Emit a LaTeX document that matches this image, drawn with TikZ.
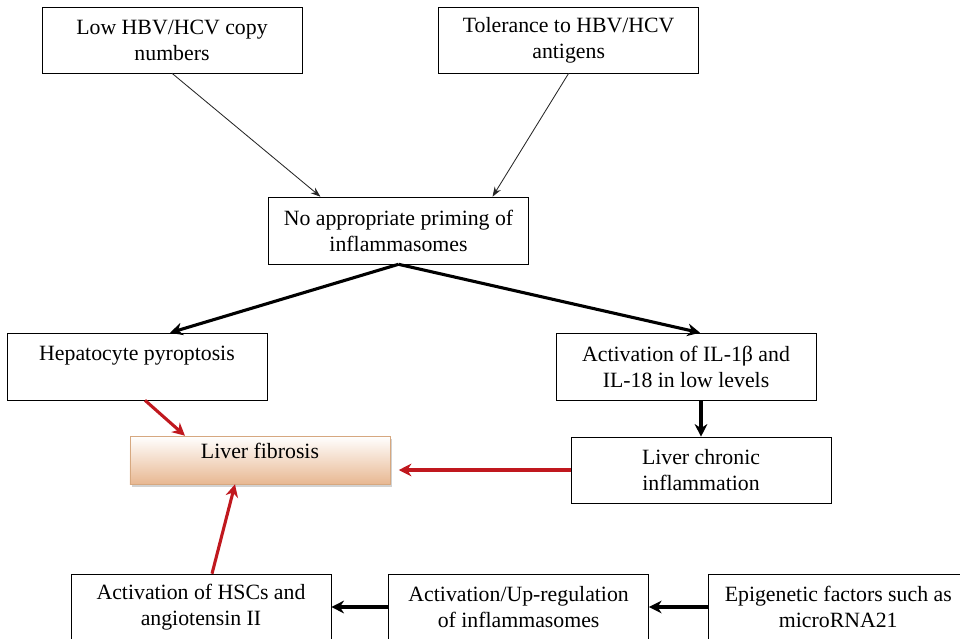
\documentclass[tikz,border=0pt]{standalone}
\usepackage{fontspec}
\setmainfont{Liberation Serif}
\usepackage{tikz}
\usetikzlibrary{positioning,arrows.meta,shadows}
\definecolor{fibred}{RGB}{192,24,30}
\definecolor{peach}{RGB}{232,184,146}
\definecolor{peachline}{RGB}{214,168,128}
\tikzstyle{flowbox} = [draw=black, thin, fill=white, rectangle,
    minimum width=6.5cm, minimum height=1.65cm, align=center,
    font=\fontsize{15.5}{18.5}\selectfont]
\tikzstyle{fibbox} = [flowbox, draw=peachline, top color=white, bottom color=peach,
    minimum height=1.2cm, drop shadow={shadow xshift=1.2pt, shadow yshift=-1.8pt, fill=black!35}]
\tikzstyle{thinarrow} = [draw=black!85, line width=0.6pt, -{Stealth[length=7pt,width=5pt]}]
\tikzstyle{boldarrow} = [draw=black, line width=2.2pt, -{Stealth[length=9pt,width=9pt]}]
\tikzstyle{redarrow} = [draw=fibred, line width=2.2pt, -{Stealth[length=9pt,width=9pt]}]

\begin{document}
\begin{tikzpicture}[x=0.025cm,y=-0.025cm]
\useasboundingbox (0,0) rectangle (960,638);
\clip (0,0) rectangle (960,638);

% top row
\node [flowbox] (low) at (172,40) {Low HBV/HCV copy\\numbers};
\node [flowbox, right=3.4cm of low] (tol) {Tolerance to HBV/HCV\\antigens};

\node [flowbox, minimum height=1.675cm] (noprim) at (398.5,230.5)
    {No appropriate priming of\\inflammasomes};

\draw [thinarrow] (low.south) -- ([xshift=-1.95cm]noprim.north);
\draw [thinarrow] (tol.south) -- ([xshift=2.35cm]noprim.north);

% middle
\node [flowbox, minimum height=1.675cm] (hep) at (137,366.5) {Hepatocyte pyroptosis\\ \mbox{}};
\node [flowbox, minimum height=1.675cm] (act) at (686,366.5) {Activation of IL-1β and\\IL-18 in low levels};

\draw [boldarrow] (noprim.south) -- ([xshift=0.825cm]hep.north);
\draw [boldarrow] (noprim.south) -- ([xshift=0.35cm]act.north);

\node [flowbox] (chronic) at (701,470) {Liver chronic\\inflammation};
\draw [boldarrow] (chronic.north |- act.south) -- (chronic.north);

\node [fibbox] (fib) at (260,460) {Liver fibrosis\\[-6pt]\mbox{}};

\draw [redarrow] ([xshift=0.2cm]hep.south) -- ([xshift=-1.875cm]fib.north);
\draw [redarrow, shorten >=6pt] (chronic.west) -- (fib.east |- chronic.west);

% bottom row
\node [flowbox] (hsc) at (201,607) {Activation of HSCs and\\angiotensin II};
\node [flowbox, right=1.425cm of hsc] (upreg) {Activation/Up-regulation\\of inflammasomes};
\node [flowbox, right=1.475cm of upreg] (epi) {Epigenetic factors such as\\microRNA21};

\draw [redarrow] ([xshift=0.275cm]hsc.north) -- ([xshift=-0.625cm]fib.south);
\draw [boldarrow] (upreg.west) -- (hsc.east);
\draw [boldarrow] (epi.west) -- (upreg.east);

\end{tikzpicture}
\end{document}
